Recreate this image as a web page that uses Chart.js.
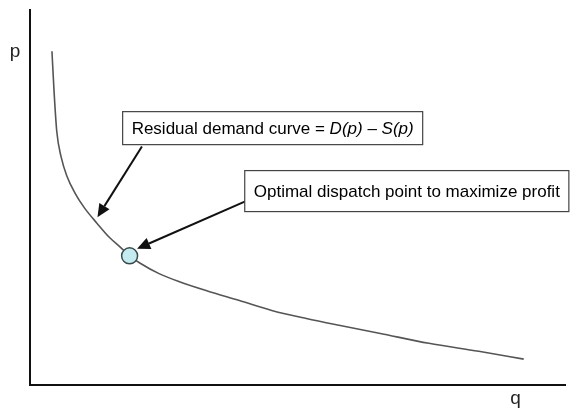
<!DOCTYPE html>
<html>
<head>
<meta charset="utf-8">
<script src="https://cdn.jsdelivr.net/npm/chart.js@4.4.1/dist/chart.umd.min.js"></script>
<style>
  html, body { margin: 0; padding: 0; background: #fff; }
  #wrap { width: 575px; height: 411px; }
</style>
</head>
<body>
<div id="wrap"><canvas id="residualChart" width="575" height="411"></canvas></div>
<script>
// Residual demand curve (q, p in arbitrary units 0-100)
const curveQ = [4.1, 4.5, 5.0, 5.8, 6.9, 8.4, 10.2, 12.5, 14.9, 16.8, 18.6, 20.5, 24.2, 27.9, 33.0, 39.1, 45.3, 51.6, 57.7, 65.2, 74.5, 83.8, 92.2];
const curveP = [88.9, 78.0, 67.5, 60.8, 55.6, 51.1, 47.1, 43.1, 39.2, 36.8, 34.4, 32.5, 29.6, 27.5, 25.1, 22.5, 19.8, 17.7, 15.9, 13.8, 11.1, 9.0, 6.9];

// optimal dispatch point
const dispatchQ = [18.6];
const dispatchP = [34.4];

const axisNames = { x: "q", y: "p" };

// callout texts (italic parts flagged)
const demandLabel = [
  { text: "Residual demand curve = ", italic: false },
  { text: "D(p)", italic: true },
  { text: " \u2013 ", italic: false },
  { text: "S(p)", italic: true },
];
const dispatchLabel = [{ text: "Optimal dispatch point to maximize profit", italic: false }];

const FONT = "'Liberation Sans', Arial, sans-serif";

function drawArrow(ctx, x1, y1, x2, y2) {
  const ang = Math.atan2(y2 - y1, x2 - x1);
  const headLen = 13, headW = 6;
  const bx = x2 - headLen * Math.cos(ang);
  const by = y2 - headLen * Math.sin(ang);
  ctx.save();
  ctx.strokeStyle = "#111";
  ctx.fillStyle = "#111";
  ctx.lineWidth = 2;
  ctx.beginPath();
  ctx.moveTo(x1, y1);
  ctx.lineTo(bx, by);
  ctx.stroke();
  ctx.beginPath();
  ctx.moveTo(x2, y2);
  ctx.lineTo(bx + headW * Math.sin(ang), by - headW * Math.cos(ang));
  ctx.lineTo(bx - headW * Math.sin(ang), by + headW * Math.cos(ang));
  ctx.closePath();
  ctx.fill();
  ctx.restore();
}

function drawBox(ctx, left, top, height, parts, size) {
  const pad = 9;
  let w = 0;
  parts.forEach((p) => {
    ctx.font = (p.italic ? "italic " : "") + size + "px " + FONT;
    p.w = ctx.measureText(p.text).width;
    w += p.w;
  });
  ctx.save();
  ctx.fillStyle = "#fff";
  ctx.strokeStyle = "#444";
  ctx.lineWidth = 1.2;
  ctx.fillRect(left, top, w + pad * 2, height);
  ctx.strokeRect(left, top, w + pad * 2, height);
  ctx.fillStyle = "#000";
  ctx.textBaseline = "middle";
  let x = left + pad;
  parts.forEach((p) => {
    ctx.font = (p.italic ? "italic " : "") + size + "px " + FONT;
    ctx.fillText(p.text, x, top + height / 2 + 1);
    x += p.w;
  });
  ctx.restore();
}

const calloutPlugin = {
  id: "callouts",
  afterDraw(chart) {
    const ctx = chart.ctx;
    const xs = chart.scales.x;
    const ys = chart.scales.y;
    const area = chart.chartArea;

    // axis names
    ctx.save();
    ctx.fillStyle = "#222";
    ctx.font = "19px " + FONT;
    ctx.textAlign = "center";
    ctx.textBaseline = "middle";
    ctx.fillText(axisNames.y, area.left - 15, area.top + 42);
    ctx.fillText(axisNames.x, area.right - 50, area.bottom + 14);
    ctx.restore();

    // arrows
    drawArrow(ctx, xs.getPixelForValue(20.9), ys.getPixelForValue(63.5),
      xs.getPixelForValue(12.6), ys.getPixelForValue(44.7));
    drawArrow(ctx, xs.getPixelForValue(40.2), ys.getPixelForValue(48.9),
      xs.getPixelForValue(20.0), ys.getPixelForValue(36.3));

    // callout boxes
    drawBox(ctx, xs.getPixelForValue(17.3), ys.getPixelForValue(72.8), 33, demandLabel, 17);
    drawBox(ctx, xs.getPixelForValue(40.1), ys.getPixelForValue(57.1), 41, dispatchLabel, 17);
  },
};

const ctx = document.getElementById("residualChart").getContext("2d");

window.residualChart = new Chart(ctx, {
  type: "scatter",
  data: {
    datasets: [
      {
        label: "Optimal dispatch point",
        data: dispatchQ.map((q, i) => ({ x: q, y: dispatchP[i] })),
        pointRadius: 8,
        pointBackgroundColor: "#c4ecf0",
        pointBorderColor: "#3a4a4c",
        pointBorderWidth: 1.5,
        showLine: false,
        order: 0,
      },
      {
        label: "Residual demand curve",
        data: curveQ.map((q, i) => ({ x: q, y: curveP[i] })),
        showLine: true,
        borderColor: "#555",
        borderWidth: 1.6,
        pointRadius: 0,
        cubicInterpolationMode: "monotone",
        fill: false,
        order: 1,
      },
    ],
  },
  options: {
    responsive: false,
    animation: false,
    layout: { padding: { left: 30, top: 7, right: 8, bottom: 26 } },
    scales: {
      x: {
        type: "linear",
        min: 0,
        max: 100,
        grid: { display: false, drawTicks: false },
        ticks: { display: false },
        border: { display: true, color: "#111", width: 2 },
      },
      y: {
        type: "linear",
        min: 0,
        max: 100,
        grid: { display: false, drawTicks: false },
        ticks: { display: false },
        border: { display: true, color: "#111", width: 2 },
      },
    },
    plugins: {
      legend: { display: false },
      tooltip: { enabled: false },
    },
  },
  plugins: [calloutPlugin],
});
</script>
</body>
</html>
